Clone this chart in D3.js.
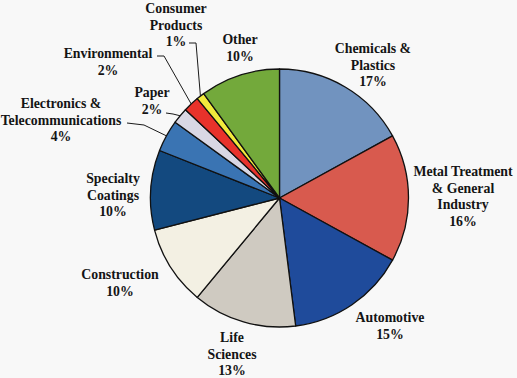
<!DOCTYPE html>
<html>
<head>
<meta charset="utf-8">
<script src="https://cdn.jsdelivr.net/npm/d3@7"></script>
<style>
  html, body { margin: 0; padding: 0; background: #f8f8f8; }
  svg { display: block; }
  .lbl { font-weight: bold; font-size: 13.8px; fill: #141414; }
  .leader { fill: none; stroke: #1a1a1a; stroke-width: 1; }
</style>
</head>
<body>
<svg id="chart" width="517" height="378"></svg>
<script>
/* ---------- data ---------- */
const categories = ["Chemicals & Plastics", "Metal Treatment & General Industry", "Automotive",
  "Life Sciences", "Construction", "Specialty Coatings", "Electronics & Telecommunications",
  "Paper", "Environmental", "Consumer Products", "Other"];
const shares = [17, 16, 15, 13, 10, 10, 4, 2, 2, 1, 10];
const labelLines = [["Chemicals &", "Plastics"], ["Metal Treatment", "& General", "Industry"],
  ["Automotive"], ["Life", "Sciences"], ["Construction"], ["Specialty", "Coatings"],
  ["Electronics &", "Telecommunications"], ["Paper"], ["Environmental"], ["Consumer", "Products"], ["Other"]];
const colors = ["#7193bf", "#d85a4e", "#1f4b9b", "#cfcac1", "#f3f0e3", "#13497f",
  "#3a74b3", "#d9d7e4", "#e8322b", "#f2ea3c", "#73a93b"];

/* ---------- layout ---------- */
const cx = 279.5, cy = 198, R = 129;
const lineH = 16.8;
// label centre of the first line
const labelPos = [[373, 48], [463, 171], [390, 317], [232, 337], [120, 274], [113, 178],
  [61, 103], [152, 92], [108, 53], [176, 8], [240, 39]];
// leader start points (near the text) for the thin slices
const leaders = { 6: [[127, 123], [144, 125]], 7: [[166, 113], [173, 114]],
  8: [[157, 56], [164, 56]], 9: [[189, 43], [196, 43]] };

const svg = d3.select("#chart");
const g = svg.append("g").attr("transform", `translate(${cx},${cy})`);

const pie = d3.pie().sort(null).value(d => d);
const arcs = pie(shares);
const arc = d3.arc().innerRadius(0).outerRadius(R);
const edge = d3.arc().innerRadius(R).outerRadius(R);

g.selectAll("path.slice")
  .data(arcs)
  .join("path")
  .attr("class", "slice")
  .attr("d", arc)
  .attr("fill", (d, i) => colors[i])
  .attr("stroke", "#111")
  .attr("stroke-width", 1.3)
  .attr("stroke-linejoin", "round");

/* ---------- leader lines ---------- */
Object.entries(leaders).forEach(([k, pts]) => {
  const i = +k;
  const c = edge.centroid(arcs[i]);
  svg.append("path")
    .attr("class", "leader")
    .attr("d", d3.line()(pts.concat([[cx + c[0], cy + c[1]]])));
});

/* ---------- labels ---------- */
const lbl = svg.append("g")
  .attr("font-family", "'Liberation Serif', Tinos, 'Times New Roman', serif");
arcs.forEach((d, i) => {
  const [x, y] = labelPos[i];
  const t = lbl.append("text").attr("class", "lbl").attr("text-anchor", "middle");
  const lines = labelLines[i].concat([shares[i] + "%"]);
  lines.forEach((s, j) => {
    t.append("tspan").attr("x", x).attr("y", y + j * lineH).attr("dy", "0.35em").text(s);
  });
});
</script>
</body>
</html>
